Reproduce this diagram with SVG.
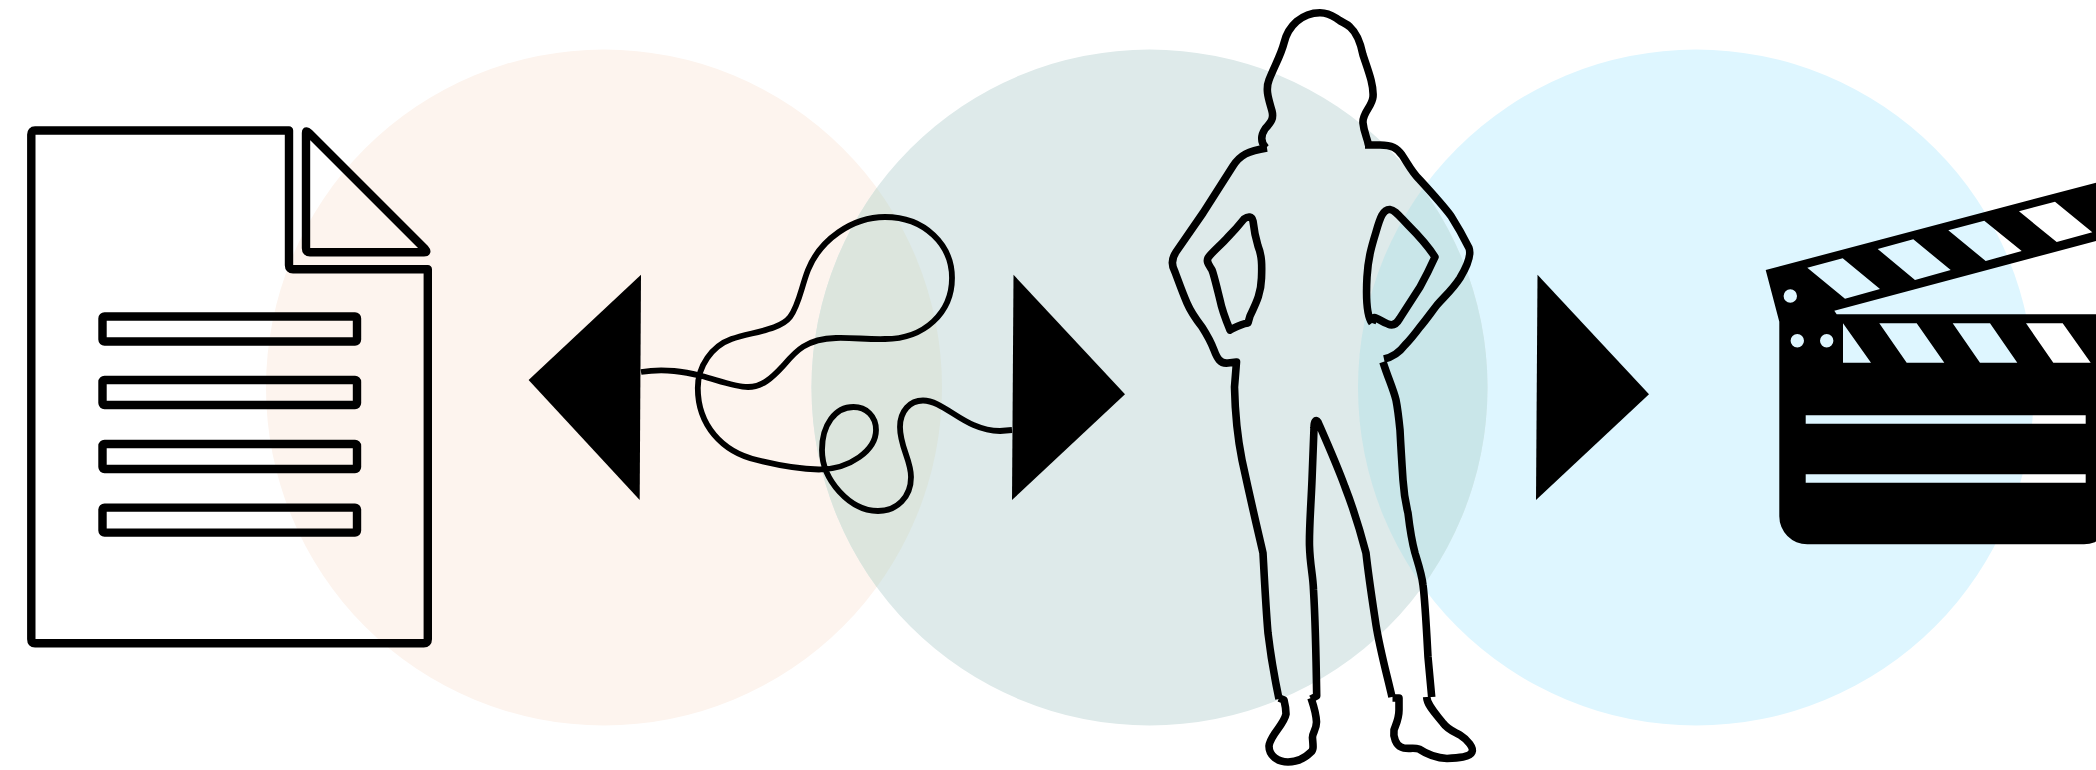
<svg xmlns="http://www.w3.org/2000/svg" width="2096" height="770" viewBox="0 0 2096 770">
<style>
.ink{fill:none;stroke:#000;stroke-linejoin:round;stroke-linecap:butt}
.doc{stroke-width:8.400}
.fig{stroke-width:7.600}
.wire{stroke-width:5.800}
</style>
<defs>
<clipPath id="c2"><circle cx="1149.500" cy="387.500" r="338"/></clipPath>
</defs>
<rect width="2096" height="770" fill="#fff"/>
<g id="backdrop">
<circle cx="604" cy="387.500" r="338" fill="#fdf4ee"/>
<circle cx="1696" cy="387.500" r="338" fill="#def6ff"/>
<circle cx="1149.500" cy="387.500" r="338" fill="#deeaea"/>
<g clip-path="url(#c2)">
<circle cx="604" cy="387.500" r="338" fill="#dce5dd"/>
<circle cx="1696" cy="387.500" r="338" fill="#c9e6e9"/>
</g>
</g>
<g id="document">
<path class="ink doc" d="M35 130.500H289V265.300Q289 269.300 293 269.300H427.800V639.300Q427.800 643.300 423.800 643.300H35Q31.300 643.300 31.300 639.300V134.500Q31.300 130.500 35 130.500Z"/>
<path class="ink doc" d="M306 133Q306 130 309 133L425 249Q428 252.300 424 252.300H310Q306 252.300 306 248.300Z"/>
<rect class="ink doc" x="102.500" y="316.500" width="254.500" height="25" rx="2"/>
<rect class="ink doc" x="102.500" y="380" width="254.500" height="25" rx="2"/>
<rect class="ink doc" x="102.500" y="444" width="254.500" height="25" rx="2"/>
<rect class="ink doc" x="102.500" y="507.600" width="254.500" height="25" rx="2"/>
</g>
<g id="connectors">
<path d="M528.600 380L641 274.700L639.700 500Z"/>
<path d="M1013.500 274.700L1125 394.300L1012 500Z"/>
<path d="M1537.500 274.700L1649 394.300L1536 500Z"/>
<path class="ink wire" d="M641 372C665 368 685 372 702 376C720 381 735 387 748 387C762 387 772 378 783 366C795 352 805 339 836 338C852 337.500 868 339.500 885 339C925 339 952 312 952 278C952 245 925 217 885 217C852 217 820 240 808 270C801 288 799 305 790 317C780 330 752 332 731.500 339C712 346 697.800 366 697.800 388C697.800 425 722 452 757 460C777 465 800 469 819 469.500C850 469.500 876 450 876 430C876 416 866 407 853.500 407C835 407 822 425 822 450C822 480 850 511 878 511C897 511 911 497 911 477C911 460 900 447 900 427C900 411 910 400.500 923 400.500C945 400.500 965 431 1000 431L1012 430"/>
</g>
<g id="person">
<path class="ink fig" d="M1266 148C1260 142 1261 135 1265 129C1271 122 1274 119 1272 111C1269 100 1265 90 1269 80C1274 67 1281 55 1284 43C1288 26 1302 12.700 1320 12.700C1330 12.700 1334 17 1339 20C1342 22.500 1346 23 1350 27C1358 34 1361 45 1363 55C1368 70 1374 85 1373 97C1372 107 1362 113 1363 123C1364 133 1367 137 1368.500 145"/>
<path class="ink fig" d="M1365 145L1380 145C1392 145 1397 148 1402 155C1408 164 1412 172 1419 179C1430 191 1442 204 1451 216C1458 227 1464 238 1469 248C1472 256 1466 268 1460 278C1453 289 1445 296 1437 305C1430 314 1426 320 1420 327C1414 335 1410 340 1405 345C1399 353 1393 357 1384 359"/>
<path class="ink fig" d="M1383 362C1388 378 1393 388 1396 400C1398 410 1399 420 1400 430C1401 450 1402 465 1403 480C1404 495 1406 505 1408 513C1410 530 1412 542 1415 553C1419 566 1422 575 1423 585C1425 600 1426 620 1428 657L1431.700 697"/>
<path class="ink fig" d="M1426.700 697C1427 705 1435 713 1443 723C1448 730 1455 732 1460 735C1468 740 1474 748 1472 752C1470 757 1458 758 1447 758.500C1436 758 1425 753 1419 749C1413 747 1406 750 1401 747C1396 745 1393 737 1394 730C1396 724 1399 719 1399 710L1399 698L1392.500 698"/>
<path class="ink fig" d="M1392 697C1387 675 1380 650 1376 625C1373 605 1369 580 1366 553C1360 530 1352 505 1345 487C1337 465 1325 438 1318 422C1316 419 1314 421 1314 428L1312 480C1311 505 1309 530 1309.500 546C1310 565 1313 575 1313.500 590C1315 615 1316 650 1316.700 696L1311 699"/>
<path class="ink fig" d="M1311 698C1313 704 1316 712 1316.500 722C1316.500 730 1312 733 1312.500 738C1313 745 1314 750 1311 752C1305 758 1296 762 1288 762C1278 762 1269 756 1269 746C1270 735 1284 725 1286 714C1286 708 1285 704 1284 700L1279 698"/>
<path class="ink fig" d="M1279 699C1275 680 1270 650 1268 633C1266 610 1265 590 1263 553C1259 535 1255 520 1242 460C1237 435 1235 410 1234.500 387L1236.500 362L1228 363C1220 364 1217 358 1214 350C1211 342 1209 338 1202 327C1195 318 1190 310 1187 303C1183 294 1178 280 1175 272C1171 265 1172 258 1176 252L1203 213L1233 166C1240 155 1248 151 1267 148"/>
<path class="ink fig" d="M1230 330C1225 318 1222 310 1220 300C1217 288 1214 275 1212 270C1209 265 1206 262 1208 258C1210 254 1222 244 1228 237C1235 230 1240 224 1244 219C1248 216 1252 216 1253 221C1254 230 1255 236 1258 246C1262 256 1262 265 1261.500 278C1261 295 1255 305 1250 316L1248 323C1241 324 1236 327 1230 330Z"/>
<path class="ink fig" d="M1372 323C1366 315 1366 295 1367 277C1368 258 1372 245 1376 232C1380 218 1383 209 1390 209.500C1395 210 1400 217 1408 225C1418 235 1428 246 1435 257C1430 268 1425 278 1420 287L1400 318C1396 325 1392 326 1388 324C1382 322 1378 318 1374 317.500L1372 323"/>
</g>
<g id="clapperboard">
<path fill="#000" fill-rule="evenodd" d="M1765.700 270L2096 182.700V241L1834.300 310.700L1836.700 314.300H2112V516A28 28 0 0 1 2084 544.300H1807.300A28 28 0 0 1 1779.300 516V321.700Z
M1807.300 267.700L1842.700 258.300L1880 289L1845 298.700Z
M1877.700 249L1913.300 239.300L1950.700 270L1915 280Z
M1948.300 230.300L1984.300 220.700L2021.700 251L1985.700 261Z
M2019 211.300L2055 201.700L2092.300 232.300L2056.700 242Z
M1843 323.300L1871 362.700H1843Z
M1879.300 323.300H1916.700L1944.300 362.700H1906.700Z
M1952.700 323.300H1990L2017.300 362.700H1980Z
M2026 323.300H2062.700L2090.700 362.700H2053.300Z
M1805.700 415.300H2085.700V423.700H1805.700Z
M1805.700 474.300H2085.700V482.700H1805.700Z
M1783.600 296a6.700 6.700 0 1 0 13.400 0a6.700 6.700 0 1 0 -13.400 0Z
M1790.600 340.700a6.700 6.700 0 1 0 13.400 0a6.700 6.700 0 1 0 -13.400 0Z
M1820 340.700a6.700 6.700 0 1 0 13.400 0a6.700 6.700 0 1 0 -13.400 0Z"/>
</g>
</svg>
